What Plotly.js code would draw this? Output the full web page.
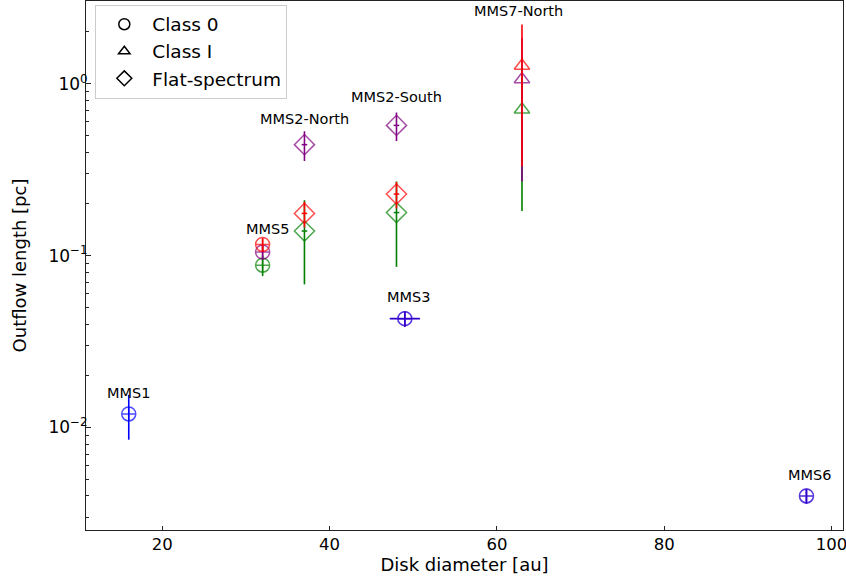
<!DOCTYPE html>
<html>
<head>
<meta charset="utf-8">
<script src="https://cdn.plot.ly/plotly-3.0.1.min.js"></script>
<style>html,body{margin:0;padding:0;background:#fff;}#chart{width:846px;height:581px;}</style>
</head>
<body>
<div id="chart"></div>
<script>
// ---- data ----
const sources      = ['MMS1', 'MMS5', 'MMS2-North', 'MMS2-South', 'MMS3', 'MMS7-North', 'MMS6'];
const diskDiameter = [16, 32, 37, 48, 49, 63, 97];
const sourceClass  = ['Class 0', 'Class 0', 'Flat-spectrum', 'Flat-spectrum', 'Class 0', 'Class I', 'Class 0'];

const lenRed     = [null, 0.116, 0.176, 0.228, null, 1.27, null];
const errRed     = [null, 0.010, 0.030, 0.040, null, 0.94, null];
const lenPurple  = [null, 0.105, 0.442, 0.572, 0.043, 1.06, 0.0040];
const errPurple  = [null, 0.010, 0.087, 0.108, 0.0045, 0.79, 0.0004];
const xerrPurple = [null, 0, 0, 0, 1.8, 0, 0];
const lenGreen   = [null, 0.088, 0.139, 0.178, null, 0.707, null];
const errGreen   = [null, 0.012, 0.071, 0.092, null, 0.525, null];
const lenBlue    = [0.012, null, null, null, 0.043, null, 0.0040];
const errBlue    = [0.0035, null, null, null, 0.0045, null, 0.0004];
const xerrBlue   = [0, null, null, null, 1.8, null, 0];

const classNames = ['Class 0', 'Class I', 'Flat-spectrum'];

// ---- styles ----
const classSymbol = {'Class 0': 'circle-cross-open', 'Class I': 'triangle-up-open', 'Flat-spectrum': 'diamond-open'};
const classSize   = {'Class 0': 14, 'Class I': 13.5, 'Flat-spectrum': 15.5};
const legendSymbol = {'Class 0': 'circle-open', 'Class I': 'triangle-up-open', 'Flat-spectrum': 'diamond-open'};
const legendSize   = {'Class 0': 11, 'Class I': 10, 'Flat-spectrum': 11.5};

function seriesTraces(len, err, xerr, color, filter, opacity) {
  const x = [], y = [], ey = [], ex = [], sym = [], sz = [], cx = [], cy = [];
  for (let i = 0; i < sources.length; i++) {
    if (len[i] === null || !filter(i)) continue;
    x.push(diskDiameter[i]); y.push(len[i]); ey.push(err[i]);
    ex.push(xerr ? (xerr[i] || 0) : 0);
    sym.push(classSymbol[sourceClass[i]]); sz.push(classSize[sourceClass[i]]);
    if (sourceClass[i] === 'Flat-spectrum') { cx.push(diskDiameter[i]); cy.push(len[i]); }
  }
  const out = [{
    type: 'scatter', mode: 'markers', x: x, y: y, showlegend: false, hoverinfo: 'skip',
    opacity: opacity,
    marker: {symbol: sym, size: sz, color: color, line: {color: color, width: 1.5}},
    error_y: {type: 'data', array: ey, visible: true, color: color, thickness: 1.6, width: 0},
    error_x: {type: 'data', array: ex, visible: true, color: color, thickness: 1.6, width: 0}
  }];
  if (cx.length) {
    out.push({
      type: 'scatter', mode: 'markers', x: cx, y: cy, showlegend: false, hoverinfo: 'skip',
      opacity: opacity,
      marker: {symbol: 'line-ew-open', size: 4, color: color, line: {color: color, width: 1.5}}
    });
  }
  return out;
}

const blueIdx = i => lenBlue[i] !== null;
let traces = [];
traces = traces.concat(seriesTraces(lenGreen, errGreen, null, 'green', i => true, 1));
traces = traces.concat(seriesTraces(lenPurple, errPurple, xerrPurple, 'purple', i => !blueIdx(i), 1));
traces = traces.concat(seriesTraces(lenRed, errRed, null, 'red', i => true, 1));
traces = traces.concat(seriesTraces(lenBlue, errBlue, xerrBlue, 'blue', i => true, 1));
traces = traces.concat(seriesTraces(lenPurple, errPurple, xerrPurple, 'purple', i => blueIdx(i), 0.4));

classNames.forEach(c => {
  traces.push({
    type: 'scatter', mode: 'markers', x: [null], y: [null], name: c, showlegend: true,
    marker: {symbol: legendSymbol[c], size: legendSize[c], color: 'black', line: {color: 'black', width: 1.5}}
  });
});

// label offsets (pixels above the highest point of each source)
const labelShift = {
  'MMS1': [0, 21], 'MMS5': [5, 16], 'MMS2-North': [0, 26], 'MMS2-South': [0, 28],
  'MMS3': [3.5, 22], 'MMS7-North': [-3, 55], 'MMS6': [3, 21]
};
const annotations = sources.map((s, i) => {
  const vals = [lenRed[i], lenPurple[i], lenGreen[i], lenBlue[i]].filter(v => v !== null);
  const top = Math.max.apply(null, vals);
  return {
    x: diskDiameter[i], y: Math.log10(top), xref: 'x', yref: 'y', text: s, showarrow: false,
    xanchor: 'center', yanchor: 'middle', xshift: labelShift[s][0], yshift: labelShift[s][1],
    font: {family: 'DejaVu Sans', size: 14.5, color: 'black'}
  };
});

const minorVals = [];
for (let e = -3; e <= 0; e++) for (let m = 2; m <= 9; m++) minorVals.push(m * Math.pow(10, e));

const axisCommon = {
  showline: true, linecolor: '#222', linewidth: 1, mirror: true, showgrid: false, zeroline: false,
  ticks: 'inside', ticklen: 4.5, tickwidth: 1, tickcolor: '#222', automargin: false,
  ticklabeloverflow: 'allow',
  tickfont: {family: 'DejaVu Sans', size: 17, color: 'black'}
};

const layout = {
  width: 846, height: 581,
  margin: {l: 86, r: 3, t: 1, b: 51, pad: 0},
  paper_bgcolor: 'white', plot_bgcolor: 'white',
  font: {family: 'DejaVu Sans', size: 18, color: 'black'},
  showlegend: true,
  legend: {
    x: 0.0123, y: 0.993, xanchor: 'left', yanchor: 'top',
    bgcolor: 'rgba(255,255,255,0.8)', bordercolor: '#cccccc', borderwidth: 1,
    font: {family: 'DejaVu Sans', size: 18.5, color: 'black'}, itemwidth: 46
  },
  xaxis: Object.assign({}, axisCommon, {
    range: [10.89, 101.37], tickmode: 'linear', tick0: 0, dtick: 20,
    ticklabelstandoff: -1,
    tickfont: {family: 'DejaVu Sans', size: 16.5, color: 'black'},
    title: {text: 'Disk diameter [au]', font: {family: 'DejaVu Sans', size: 18, color: 'black'}, standoff: 5}
  }),
  yaxis: Object.assign({}, axisCommon, {
    type: 'log', range: [-2.596, 0.481], tickmode: 'array',
    tickvals: [0.01, 0.1, 1], ticktext: ['10<sup>−2</sup>', '10<sup>−1</sup>', '10<sup>0</sup>'],
    ticklabelstandoff: -6,
    minor: {tickmode: 'array', tickvals: minorVals, ticks: 'inside', ticklen: 2.5, tickwidth: 1, tickcolor: '#222', showgrid: false},
    title: {text: 'Outflow length [pc]', font: {family: 'DejaVu Sans', size: 18, color: 'black'}, standoff: 17}
  }),
  annotations: annotations
};

Plotly.newPlot('chart', traces, layout, {displayModeBar: false, staticPlot: true});
</script>
</body>
</html>
